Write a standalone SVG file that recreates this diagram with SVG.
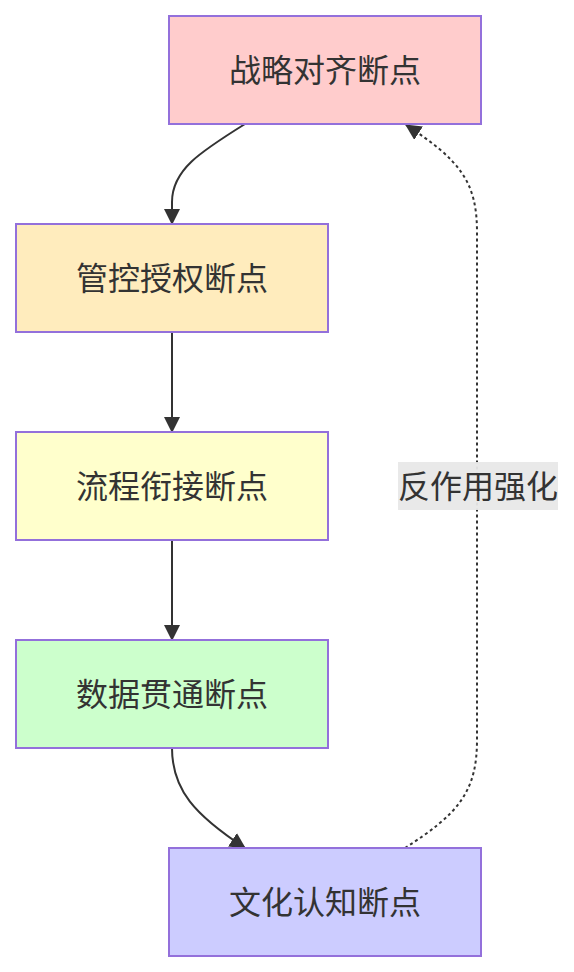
<svg xmlns="http://www.w3.org/2000/svg" width="574" height="972" viewBox="0 0 574 972">
<style>
.node rect{stroke:#9370DB;stroke-width:2}
.node text,.lbl text{font-family:"Noto Sans CJK SC","Noto Sans",sans-serif;font-size:32px;fill:#333;text-anchor:middle;dominant-baseline:central}
.edge{fill:none;stroke:#333;stroke-width:2}
.dash{stroke-dasharray:3 3}
</style>
<defs>
<marker id="ah" viewBox="0 0 16 16" refX="15" refY="8" markerWidth="16" markerHeight="16" markerUnits="userSpaceOnUse" orient="auto">
<path d="M0,0 L16,8 L0,16 z" fill="#333"/>
</marker>
</defs>
<g id="edges">
<path class="edge" d="M245,124 C200,152 172,170 172,202 L172,224" marker-end="url(#ah)"/>
<path class="edge" d="M172,332 L172,432" marker-end="url(#ah)"/>
<path class="edge" d="M172,540 L172,640" marker-end="url(#ah)"/>
<path class="edge" d="M172,748 C172,790 195,815 245,848" marker-end="url(#ah)"/>
<path class="edge dash" d="M405,848 C458,814 477,792 477,740 L477,232 C477,182 460,160 406,125" marker-end="url(#ah)"/>
</g>
<g id="A" class="node"><rect x="169" y="16" width="312" height="108" fill="#ffcccc"/><text x="325" y="68">战略对齐断点</text></g>
<g id="B" class="node"><rect x="16" y="224" width="312" height="108" fill="#ffecbd"/><text x="172" y="276">管控授权断点</text></g>
<g id="C" class="node"><rect x="16" y="432" width="312" height="108" fill="#ffffcc"/><text x="172" y="484">流程衔接断点</text></g>
<g id="D" class="node"><rect x="16" y="640" width="312" height="108" fill="#ccffcc"/><text x="172" y="692">数据贯通断点</text></g>
<g id="E" class="node"><rect x="169" y="848" width="312" height="108" fill="#ccccff"/><text x="325" y="900">文化认知断点</text></g>
<g id="label" class="lbl"><rect x="398" y="462" width="160" height="48" fill="#e8e8e8" opacity="0.95"/><text x="478" y="484">反作用强化</text></g>
</svg>
